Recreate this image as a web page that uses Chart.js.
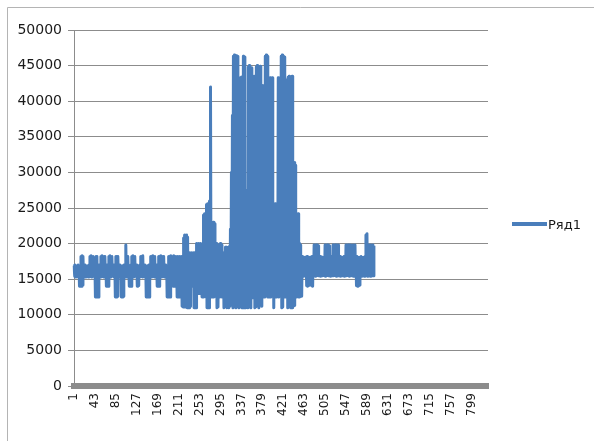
<!DOCTYPE html>
<html>
<head>
<meta charset="utf-8">
<script src="https://cdn.jsdelivr.net/npm/chart.js@4"></script>
<style>
  html, body { margin: 0; padding: 0; background: #fff; }
  #wrap { width: 594px; height: 441px; }
</style>
</head>
<body>
<div id="wrap"><canvas id="chart" width="594" height="441"></canvas></div>
<script>
// category axis runs 1..832, only every 42nd label is printed
const categoryCount = 832;
const tickLabels = ['1', '43', '85', '127', '169', '211', '253', '295', '337', '379',
    '421', '463', '505', '547', '589', '631', '673', '715', '757', '799'];
const yTicks = { min: 0, max: 50000, step: 5000 };
const seriesName = 'Ряд1';

// Ряд1, points 1..198 - flat band
const seriesStart = [
    16900, 15400, 17000, 15300, 16800, 15500, 16900, 15400, 17000, 15300,
    16900, 14000, 16800, 14100, 18200, 14000, 18300, 14200, 18200, 15400,
    16900, 15400, 17000, 15300, 16900, 15500, 16800, 15400, 16900, 15300,
    17000, 15400, 18200, 15400, 18300, 15300, 18200, 15500, 18200, 15400,
    16900, 15400, 16900, 12500, 18200, 12600, 18200, 12500, 16900, 12500,
    17000, 15400, 16900, 15300, 18200, 15400, 18300, 15400, 18200, 15300,
    18200, 15500, 18200, 15400, 16900, 14000, 17000, 14100, 16900, 14000,
    18200, 15400, 18300, 15300, 18200, 15400, 18200, 15500, 16900, 15400,
    17000, 15300, 16900, 12500, 18200, 12500, 18200, 12600, 18200, 15400,
    16900, 15400, 17000, 15300, 16900, 12500, 16800, 12500, 16900, 12600,
    17000, 15400, 16900, 15300, 19800, 15400, 17000, 15300, 18200, 15400,
    16900, 14000, 16900, 14100, 17000, 14000, 18200, 15400, 18300, 15300,
    18200, 15400, 18200, 15500, 16900, 15400, 17000, 14000, 16900, 14100,
    16900, 15300, 17000, 15400, 18200, 15400, 18200, 15300, 18300, 15400,
    16900, 15400, 17000, 15300, 16900, 12500, 16800, 12500, 16900, 12600,
    17000, 12500, 16900, 15400, 18200, 15300, 18200, 15400, 18300, 15400,
    18200, 15300, 18200, 15400, 16900, 15400, 17000, 14000, 16900, 14100,
    18200, 14000, 18200, 15400, 18300, 15300, 18200, 15400, 18200, 15400,
    18200, 15300, 16900, 15400, 17000, 15300, 16900, 12500, 16800, 12500,
    18200, 12600, 18200, 12500, 18300, 15400, 18200, 15400
];

// points 199..316 - getting noisier, single spike near 42000
const seriesRise = [
    18200, 14000, 18300, 15400, 18200, 14000, 18200, 15400, 16900, 12500,
    18200, 12500, 17000, 12600, 18200, 12500, 16900, 15400, 18200, 11200,
    18200, 11100, 20800, 11200, 21200, 11100, 21000, 15400, 21200, 11000,
    20900, 11100, 18700, 11000, 18700, 11200, 18200, 15400, 18700, 14000,
    18600, 15300, 18700, 11000, 18700, 11100, 18600, 11000, 20000, 15400,
    19900, 13000, 20000, 15300, 19800, 13000, 20000, 14000, 18700, 12500,
    19000, 12500, 24000, 12600, 24200, 14000, 23800, 12500, 25500, 11000,
    25600, 11100, 25400, 11000, 26000, 14000, 42000, 12500, 23000, 12500,
    22500, 14000, 23000, 12500, 22800, 12600, 18200, 14000, 20000, 11000,
    19800, 11100, 18200, 12500, 18300, 12500, 20000, 15400, 19800, 12500,
    18600, 14000, 18700, 11000, 18600, 12500, 19500, 14000, 19500, 11000,
    19400, 11100, 19500, 11000, 19600, 11200, 22000, 12500
];

// points 317..450 - the burst up to ~46000
const seriesBurst = [
    30000, 12500, 38000, 11000, 46300, 11100, 46500, 13000, 46300, 11000,
    46400, 11200, 46300, 14500, 43300, 11000, 43200, 11100, 43300, 12500,
    43400, 11000, 43000, 11100, 46300, 11000, 46200, 14000, 27000, 11000,
    27500, 11200, 26500, 11000, 44800, 11100, 45000, 13000, 43500, 11000,
    44700, 12500, 43500, 12400, 43000, 12500, 43500, 11000, 38000, 11100,
    44800, 12500, 45000, 14000, 41000, 11000, 44800, 12500, 44900, 12600,
    42000, 11200, 42200, 12500, 42000, 14000, 41800, 12500, 46300, 12600,
    46500, 14000, 46300, 12500, 43300, 12500, 43200, 14000, 43300, 12500,
    43000, 12600, 43300, 14500, 25500, 11000, 25000, 14000, 25600, 12500,
    25400, 12500, 25500, 14200, 43300, 12500, 43200, 12600, 43300, 14000,
    46300, 11000, 46500, 11100, 46300, 12500, 46200, 14000, 43000, 12500,
    42800, 14000, 43000, 11000, 43400, 11100, 43500, 13000, 43300, 11000,
    43400, 11200, 43500, 11000, 31200, 13000, 31400, 11300, 31000, 14000,
    24200, 12500, 23800, 14000
];

// points 451..603 - back to the band
const seriesTail = [
    24200, 12500, 20000, 12500, 19800, 14000, 18100, 12600, 18200, 15500,
    18100, 15400, 18000, 15500, 18100, 15600, 18100, 14100, 18200, 14000,
    18100, 14100, 18000, 14200, 18100, 15500, 18100, 14100, 18200, 14000,
    18100, 15500, 19800, 15500, 19700, 15400, 19800, 15500, 19800, 15600,
    19700, 15500, 18100, 15500, 18200, 15400, 18100, 15500, 18100, 15500,
    18000, 16300, 18100, 15500, 19800, 15400, 19700, 15500, 19800, 15600,
    19800, 15500, 19700, 15500, 18100, 15400, 18200, 16300, 18100, 15500,
    19800, 15500, 19700, 15600, 19800, 15500, 19800, 15400, 19700, 15500,
    19800, 15500, 18100, 15500, 18200, 15400, 18100, 16300, 18000, 15500,
    18100, 15500, 18200, 15400, 18100, 15500, 19800, 15500, 19700, 15600,
    19800, 15500, 19800, 15400, 19700, 16300, 19800, 15500, 18100, 15500,
    19800, 15400, 19700, 15500, 19800, 15500, 18100, 14100, 18200, 14000,
    18100, 14100, 18000, 14200, 18100, 15500, 18200, 15400, 18100, 15500,
    18000, 15500, 18100, 15400, 18200, 15500, 21200, 15500, 21400, 15400,
    19800, 15500, 19700, 15500, 19800, 15400, 19800, 15500, 19700, 15600,
    19800, 15500, 19700
];

const categories = [];
for (let i = 1; i <= categoryCount; i++) categories.push(String(i));

const seriesValues = seriesStart.concat(seriesRise, seriesBurst, seriesTail);

const lineColor = '#4a7ebb';
const textColor = '#1a1a1a';
const textFont = '"DejaVu Sans", sans-serif';

// white page, outer chart frame and the legend
const decor = {
    id: 'decor',
    beforeDraw(chart) {
        const ctx = chart.ctx;
        ctx.save();
        ctx.fillStyle = '#fff';
        ctx.fillRect(0, 0, chart.width, chart.height);
        ctx.restore();
    },
    afterDraw(chart) {
        const ctx = chart.ctx;
        ctx.save();
        ctx.strokeStyle = '#b4b4b4';
        ctx.lineWidth = 1;
        ctx.beginPath();
        ctx.moveTo(7.5, chart.height);
        ctx.lineTo(7.5, 7.5);
        ctx.lineTo(chart.width, 7.5);
        ctx.stroke();

        ctx.strokeStyle = lineColor;
        ctx.lineWidth = 4;
        ctx.beginPath();
        ctx.moveTo(512, 224);
        ctx.lineTo(547, 224);
        ctx.stroke();

        ctx.fillStyle = textColor;
        ctx.font = '13px ' + textFont;
        ctx.textAlign = 'left';
        ctx.textBaseline = 'middle';
        ctx.fillText(seriesName, 548, 226);
        ctx.restore();
    }
};

new Chart(document.getElementById('chart').getContext('2d'), {
    type: 'line',
    data: {
        labels: categories,
        datasets: [{
            label: seriesName,
            data: seriesValues,
            borderColor: lineColor,
            backgroundColor: lineColor,
            borderWidth: 3,
            borderJoinStyle: 'round',
            pointRadius: 0,
            tension: 0,
            fill: false
        }]
    },
    options: {
        responsive: false,
        animation: false,
        events: [],
        layout: { padding: { top: 30, right: 106, left: 0, bottom: 0 } },
        plugins: {
            legend: { display: false },
            tooltip: { enabled: false }
        },
        scales: {
            x: {
                offset: false,
                grid: { display: false, drawTicks: false },
                border: { display: true, color: '#8c8c8c', width: 6 },
                ticks: {
                    autoSkip: false,
                    minRotation: 90,
                    maxRotation: 90,
                    padding: 7,
                    color: textColor,
                    font: { family: textFont, size: 12 },
                    callback: function(value) {
                        const label = this.getLabelForValue(value);
                        return tickLabels.includes(label) ? label : '';
                    }
                },
                afterFit: scale => { scale.height = 55; }
            },
            y: {
                min: yTicks.min,
                max: yTicks.max,
                grid: { color: '#8c8c8c', lineWidth: 1, tickLength: 6 },
                border: { display: true, color: '#8c8c8c', width: 1 },
                ticks: {
                    stepSize: yTicks.step,
                    padding: 6,
                    color: textColor,
                    font: { family: textFont, size: 14 },
                    callback: value => String(value)
                },
                afterFit: scale => { scale.width = 74; }
            }
        }
    },
    plugins: [decor]
});
</script>
</body>
</html>
